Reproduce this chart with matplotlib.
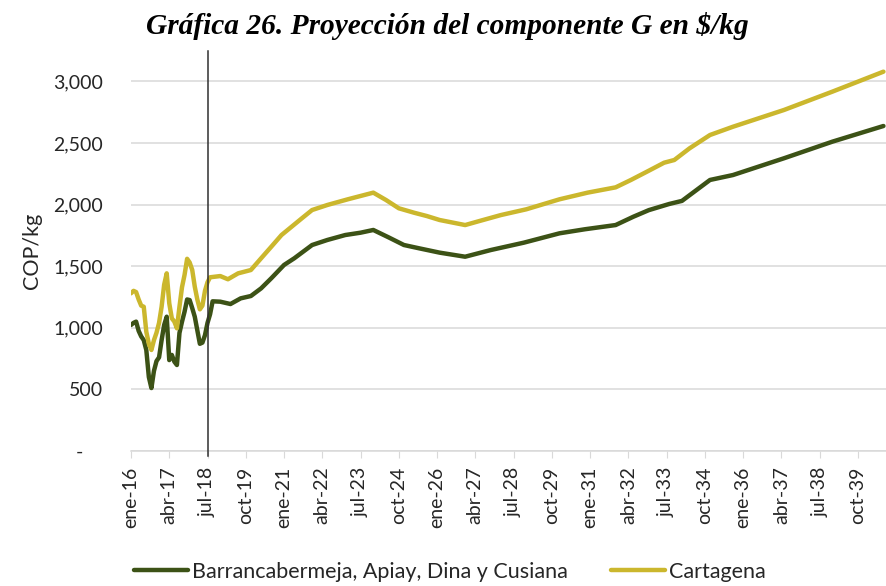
import matplotlib
matplotlib.use("Agg")
import matplotlib.pyplot as plt
from matplotlib.ticker import FixedLocator, FuncFormatter

# ---- data (months since ene-16) ----
tick_labels = ["ene-16", "abr-17", "jul-18", "oct-19", "ene-21", "abr-22", "jul-23",
               "oct-24", "ene-26", "abr-27", "jul-28", "oct-29", "ene-31", "abr-32",
               "jul-33", "oct-34", "ene-36", "abr-37", "jul-38", "oct-39"]
tick_months = [0, 15, 30, 45, 60, 75, 90, 105, 120, 135, 150, 165, 180, 195,
               210, 225, 240, 255, 270, 285]

barranca_m = [0, 1, 2, 3, 4, 5, 6, 7, 8, 9, 10, 11, 12, 13, 14, 15, 16, 17, 18, 19,
              20, 21, 22, 23, 24, 25, 26, 27, 28, 29, 30, 31, 32, 35, 39, 43, 47, 51,
              55, 60, 64, 71, 77, 84, 90, 95, 101, 107, 113, 121, 131, 141, 154, 168,
              178, 190, 197, 203, 211, 216, 227, 236, 256, 275, 295]
barranca_v = [1023, 1040, 1050, 975, 930, 900, 820, 600, 511, 650, 730, 760, 900, 1023,
              1090, 738, 780, 725, 698, 958, 1050, 1131, 1230, 1225, 1160, 1090, 980,
              870, 880, 940, 1040, 1110, 1215, 1212, 1193, 1239, 1258, 1320, 1402, 1510,
              1564, 1672, 1713, 1753, 1772, 1794, 1734, 1672, 1645, 1610, 1577, 1631,
              1691, 1767, 1800, 1834, 1902, 1955, 2005, 2030, 2200, 2240, 2376, 2511, 2638]

cartagena_m = [0, 1, 2, 3, 4, 5, 6, 7, 8, 9, 10, 11, 12, 13, 14, 15, 16, 17, 18, 19,
               20, 21, 22, 23, 24, 25, 26, 27, 28, 29, 30, 31, 35, 38, 42, 47, 51, 55,
               59, 63, 67, 71, 77, 85, 90, 95, 100, 105, 111, 116, 121, 131, 137, 145,
               155, 168, 179, 190, 196, 203, 209, 213, 219, 227, 236, 256, 275, 295]
cartagena_v = [1280, 1300, 1290, 1230, 1180, 1171, 968, 870, 820, 900, 960, 1040, 1171,
               1350, 1442, 1199, 1077, 1050, 996, 1171, 1330, 1430, 1560, 1530, 1470,
               1334, 1230, 1150, 1180, 1300, 1370, 1410, 1420, 1394, 1442, 1469, 1564,
               1658, 1753, 1821, 1889, 1956, 1997, 2043, 2070, 2097, 2037, 1970, 1934,
               1907, 1875, 1834, 1869, 1915, 1962, 2043, 2097, 2140, 2200, 2275, 2340,
               2362, 2457, 2565, 2632, 2768, 2917, 3079]

series_names = ["Barrancabermeja, Apiay, Dina y Cusiana", "Cartagena"]
colors = ["#3c5216", "#cbb72d"]
marker_month = 30  # jul-18

# ---- figure ----
plt.rcParams['font.family'] = ['Lato', 'DejaVu Sans']
fig = plt.figure(figsize=(8.86, 5.86), dpi=100)
ax = fig.add_axes([131/886, 1-451/586, 1-131/886, (451-50.6)/586])

ax.plot(barranca_m, barranca_v, color=colors[0], lw=3.2, label=series_names[0],
        solid_joinstyle='round', solid_capstyle='round', zorder=3)
ax.plot(cartagena_m, cartagena_v, color=colors[1], lw=3.2, label=series_names[1],
        solid_joinstyle='round', solid_capstyle='round', zorder=3)

ax.axvline(marker_month, ymin=-0.012, ymax=1, color='#303030', lw=1.1, clip_on=False, zorder=4)

ax.set_xlim(0, 296)
ax.set_ylim(0, 3250)
ax.yaxis.set_major_locator(FixedLocator([0, 500, 1000, 1500, 2000, 2500, 3000]))
ax.yaxis.set_major_formatter(FuncFormatter(lambda v, p: "-    " if v == 0 else f"{int(v):,}"))
ax.grid(axis='y', color='#d9d9d9', lw=1.1)
ax.set_axisbelow(True)

ax.set_xticks(tick_months)
ax.set_xticklabels(tick_labels, rotation=90)
ax.tick_params(axis='x', direction='out', length=5, color='#d9d9d9', pad=6,
               labelsize=14, labelcolor='#262626')
ax.tick_params(axis='y', length=0, pad=20, labelsize=14, labelcolor='#262626')

for s in ['top', 'right', 'left']:
    ax.spines[s].set_visible(False)
ax.spines['bottom'].set_color('#d9d9d9')
ax.spines['bottom'].set_linewidth(1.1)

ax.set_ylabel("COP/kg", fontsize=15.5, color='#262626', labelpad=8)

fig.text(447/886, 1-26/586, "Gráfica 26. Proyección del componente G en $/kg",
         ha='center', va='center', fontsize=21.2, fontweight='bold', fontstyle='italic',
         family=['Liberation Serif', 'DejaVu Serif'], color='black')

fig.legend(loc='center', bbox_to_anchor=(450/886, 1-572/586), ncol=2, frameon=False,
           fontsize=15.5, handlelength=2.5, handletextpad=0.2, columnspacing=2.0,
           labelcolor='#262626')

fig.savefig("out.png", dpi=100)
